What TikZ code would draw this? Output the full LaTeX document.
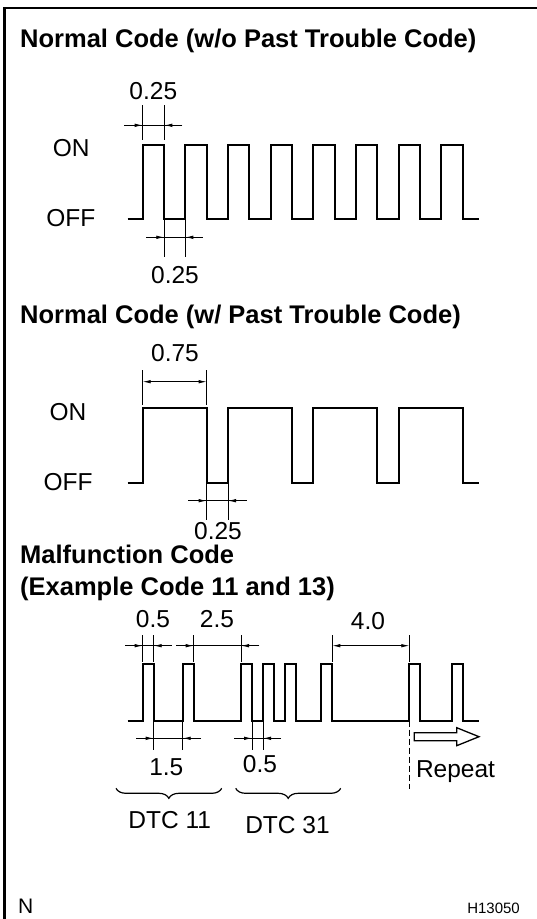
\documentclass[tikz,border=0pt]{standalone}
\usepackage{fontspec}
\setmainfont{Liberation Sans}
\usetikzlibrary{arrows.meta, decorations.pathreplacing}

\begin{document}
\begin{tikzpicture}[
x=1pt, y=-1pt,
wave/.style={line width=1.9pt},
dimline/.style={line width=0.8pt},
dimarrow/.style={line width=0.8pt, -{Latex[length=8pt, width=3.5pt]}},
bracedown/.style={line width=1.2pt, decorate, decoration={brace, mirror, amplitude=10pt}},
heading/.style={
font=\fontsize{25.5}{30}\selectfont\bfseries,
anchor=base west,
inner sep=0 pt,
},
txt/.style={
font=\fontsize{24.5}{29}\selectfont,
anchor=base,
inner sep=0 pt,
}
]
\useasboundingbox (0,0) rectangle (537,919);

% frame
\draw[line width=2.7pt] (4.7,919) -- (4.7,8) -- (537,8);

% headings
\node[heading] (h1) at (20,47.7) {Normal Code (w/o Past Trouble Code)};
\node[heading] (h2) at (20,323.3) {Normal Code (w/ Past Trouble Code)};
\node[heading] (h3) at (20,563.3) {Malfunction Code};
\node[heading] (h4) at (20,595) {(Example Code 11 and 13)};

% levels
\path[every node/.style={txt}]
(71.3,156) node (on1) {ON}
(70.8,226) node (off1) {OFF}
(68,420.7) node (on2) {ON}
(68,490) node (off2) {OFF}
;

% pulse trains
\draw[wave] (127.7,218.7)
foreach \k in {0,...,7} {
-- ({142.7+42.67*\k},218.7) -- ++(0,-73.7) -- ++(21.33,0) -- ++(0,73.7)
} -- (479,218.7);

\draw[wave] (127.7,482.7)
foreach \k in {0,...,3} {
-- ({142.7+85.33*\k},482.7) -- ++(0,-74.4) -- ++(64,0) -- ++(0,74.4)
} -- (479,482.7);

\draw[wave] (127.7,720.7)
foreach \x in {142.7,182.7,241,263,285.3,321.3,409.3,452.3} {
-- (\x,720.7) -- ++(0,-56.4) -- ++(11,0) -- ++(0,56.4)
} -- (479,720.7);

% extension lines
\draw[dimline]
foreach \x in {142.7,164.3} {(\x,105) -- (\x,140)}
foreach \x in {164.3,185.3} {(\x,218.7) -- (\x,256.7)}
foreach \x in {142.7,206.7} {(\x,370) -- (\x,405)}
foreach \x in {206.7,228} {(\x,482.7) -- (\x,520)}
foreach \x in {142.7,153.7,193.7,241,332.3,409.3} {(\x,635) -- (\x,661.7)}
foreach \x in {153.7,182.7,252,263} {(\x,720.7) -- (\x,750)}
;

\path
% w/o past trouble code
(124,125.3) coordinate(p1) (142.7,125.3) coordinate(p2)
(164.3,125.3) coordinate(p3) (182.3,125.3) coordinate(p4)
(146,237.3) coordinate(q1) (164.3,237.3) coordinate(q2)
(185.3,237.3) coordinate(q3) (202.7,237.3) coordinate(q4)
% w/ past trouble code
(142.7,381.7) coordinate(r1) (175,381.7) coordinate(r2)
(206.7,381.7) coordinate(r3)
(188.3,500.7) coordinate(s1) (206.7,500.7) coordinate(s2)
(228,500.7) coordinate(s3) (246.7,500.7) coordinate(s4)
% malfunction code
(125,645.7) coordinate(a1) (142.7,645.7) coordinate(a2)
(153.7,645.7) coordinate(a3) (171.7,645.7) coordinate(a4)
(176,645.7) coordinate(b1) (193.7,645.7) coordinate(b2)
(241,645.7) coordinate(b3) (259.3,645.7) coordinate(b4)
(332.3,645.7) coordinate(c1) (370.8,645.7) coordinate(c2)
(409.3,645.7) coordinate(c3)
(136,738.3) coordinate(d1) (153.7,738.3) coordinate(d2)
(182.7,738.3) coordinate(d3) (201,738.3) coordinate(d4)
(234.3,738.3) coordinate(e1) (252,738.3) coordinate(e2)
(263,738.3) coordinate(e3) (281,738.3) coordinate(e4)
;

\draw[dimline]
(p1) -- (p4) (q1) -- (q4)
(s1) -- (s4)
(a1) -- (a4) (b1) -- (b4)
(d1) -- (d4) (e1) -- (e4)
;

% dimension arrows
\path[every edge/.style={draw, dimarrow}]
(p1) edge (p2) (p4) edge (p3)
(q1) edge (q2) (q4) edge (q3)
(r2) edge (r1) (r2) edge (r3)
(s1) edge (s2) (s4) edge (s3)
(a1) edge (a2) (a4) edge (a3)
(b1) edge (b2) (b4) edge (b3)
(c2) edge (c1) (c2) edge (c3)
(d1) edge (d2) (d4) edge (d3)
(e1) edge (e2) (e4) edge (e3)
;

% repeat
\draw[dimline, dash pattern=on 6pt off 3pt] (409.3,720.7) -- (409.3,789.3);
\draw[line width=1.3pt]
(414.3,732.7) -- (456.7,732.7) -- (456.7,727.7) -- (479,736.7)
-- (456.7,745.7) -- (456.7,740.7) -- (414.3,740.7) -- cycle;

% braces
\draw[bracedown] (116,788.3) -- (221.7,788.3);
\draw[bracedown] (235.7,788.3) -- (340.7,788.3);

% labels
\path[every node/.style={txt}]
(153.3,99) node (t1a) {0.25}
(175,283.3) node (t1b) {0.25}
(175,361.7) node (t2a) {0.75}
(218,539.3) node (t2b) {0.25}
(153,627.5) node (t3a) {0.5}
(217,627.5) node (t3b) {2.5}
(368,629) node (t3c) {4.0}
(166.3,775) node (t3d) {1.5}
(260,772.7) node (t3e) {0.5}
(455.5,777.3) node (rep) {Repeat}
(169.7,828.3) node (dtca) {DTC 11}
(287.5,833.3) node (dtcb) {DTC 31}
;

\node[txt, anchor=base west, font=\fontsize{21}{25}\selectfont] (n) at (18,913) {N};
\node[txt, anchor=base east, font=\fontsize{15}{18}\selectfont] (fig) at (520,913) {H13050};

\end{tikzpicture}
\end{document}
